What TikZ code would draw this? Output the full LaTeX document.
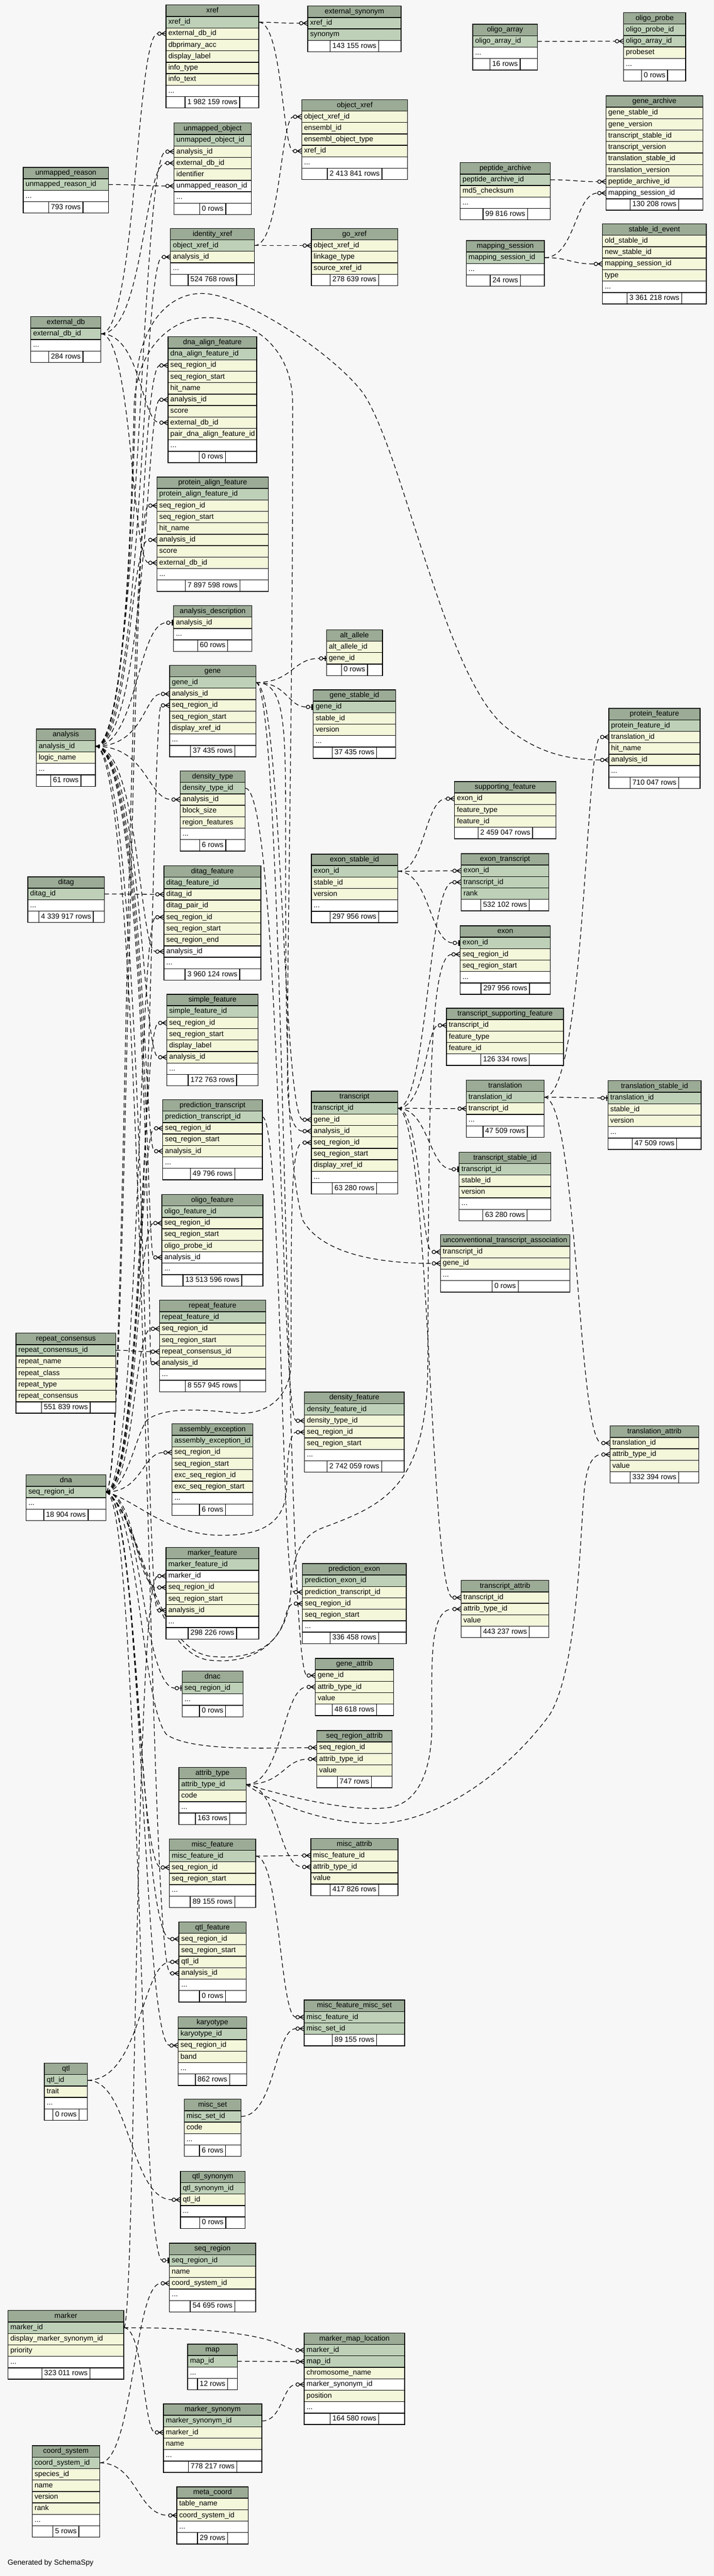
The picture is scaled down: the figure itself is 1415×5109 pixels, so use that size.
\documentclass[tikz,border=0pt]{standalone}
\usepackage{fontspec}
\setmainfont{Liberation Sans}
\usetikzlibrary{calc}
\definecolor{bgc}{HTML}{F7F7F7}
\definecolor{hdrc}{HTML}{9BAB96}
\definecolor{pkc}{HTML}{BED1B8}
\definecolor{colc}{HTML}{F4F7DA}
\pgfdeclarelayer{bglayer}
\pgfdeclarelayer{edgelayer}
\pgfsetlayers{bglayer,edgelayer,main}
\newcommand\tabfont{\fontsize{14.5}{17}\selectfont}
\newcommand\rowh{22.7}
\newcommand\tdots{...}
\def\fcp{pkc}\def\fcc{colc}\def\fcw{white}
\tikzset{
 cellbase/.style={draw=black, line width=1.4pt, rectangle, anchor=north west, minimum height=22.7pt, inner sep=0pt, outer sep=0pt},
 txt/.style={anchor=west, inner sep=0pt, text height=10.5pt, text depth=3pt, font=\tabfont},
 cnt/.style={draw=black, line width=1.4pt, fill=white, minimum height=22.7pt, inner xsep=4.5pt, inner ysep=0pt, text height=10.5pt, text depth=3pt, font=\tabfont},
 fkline/.style={draw=black, line width=1.3pt, dash pattern=on 9pt off 6pt},
 mk/.style={draw=black, line width=1.3pt, solid},
}
\newcommand\dbtable[6]{%
 \node[cellbase, fill=hdrc, minimum width=#4] (#1-0) at (#2,{-#3}) {};
 \node[txt, anchor=center] at (#1-0.center) {#1};
 \foreach \rk/\rt [count=\ri] in {#5} {%
   \edef\curfill{\csname fc\rk\endcsname}%
   \node[cellbase, fill=\curfill, minimum width=#4] (#1-\ri) at (#2,{-#3-\ri*\rowh}) {};
   \node[txt] at ($(#1-\ri.west)+(4.5,0)$) {\rt};
   \xdef\nrow{\ri}%
 }%
 \node[cellbase, fill=white, minimum width=#4] (#1-f) at (#2,{-#3-(\nrow+1)*\rowh}) {};
 \node[cnt] at (#1-f.center) {#6};
}
\newcommand\crowat[1]{%
 \draw[mk] ($(#1.west)+(-9,0)$) -- ($(#1.west)+(0,5)$)
   ($(#1.west)+(-9,0)$) -- (#1.west)
   ($(#1.west)+(-9,0)$) -- ($(#1.west)+(0,-5)$);
 \draw[mk, fill=white] ($(#1.west)+(-13,0)$) circle[radius=3.5];
}
\newcommand\oneat[1]{%
 \draw[mk] ($(#1.west)+(-7,0)$) -- (#1.west);
 \draw[mk, line width=2.6pt] ($(#1.west)+(-2.2,5.5)$) -- ($(#1.west)+(-2.2,-5.5)$);
 \draw[mk, fill=white] ($(#1.west)+(-10.5,0)$) circle[radius=3.5];
}
\newcommand\fk[3]{%
 \coordinate (cA) at (#3,0);
 \coordinate (cE) at ($(#2.west)+(-16.5,0)$);
 \draw[fkline] (#1.east) .. controls (#1.east -| cA) and (cE -| cA) .. (cE);
 \crowat{#2}}
\newcommand\fo[3]{%
 \coordinate (cA) at (#3,0);
 \coordinate (cE) at ($(#2.west)+(-14,0)$);
 \draw[fkline] (#1.east) .. controls (#1.east -| cA) and (cE -| cA) .. (cE);
 \oneat{#2}}
\begin{document}
\catcode`\_=12
\begin{tikzpicture}[x=1pt,y=1pt]
\useasboundingbox (0,0) rectangle (1415,-5109);
\begin{pgfonlayer}{bglayer}
\fill[bgc] (0,0) rectangle (1415,-5109);
\end{pgfonlayer}

\dbtable{xref}{329}{10}{184}{p/xref_id, c/external_db_id, c/dbprimary_acc, c/display_label, c/info_type, c/info_text, w/\tdots}{1 982 159 rows}
\dbtable{external_synonym}{610}{12}{185}{p/xref_id, p/synonym}{143 155 rows}
\dbtable{unmapped_object}{345}{244}{153}{p/unmapped_object_id, c/analysis_id, c/external_db_id, c/identifier, w/unmapped_reason_id, w/\tdots}{0 rows}
\dbtable{unmapped_reason}{46}{332}{169}{p/unmapped_reason_id, w/\tdots}{793 rows}
\dbtable{object_xref}{598}{197.5}{210}{c/object_xref_id, c/ensembl_id, c/ensembl_object_type, c/xref_id, w/\tdots}{2 413 841 rows}
\dbtable{identity_xref}{338}{453}{166}{p/object_xref_id, c/analysis_id, w/\tdots}{524 768 rows}
\dbtable{go_xref}{617}{453}{171}{c/object_xref_id, c/linkage_type, c/source_xref_id}{278 639 rows}
\dbtable{external_db}{61}{628}{139}{p/external_db_id, w/\tdots}{284 rows}
\dbtable{dna_align_feature}{333}{668}{176}{p/dna_align_feature_id, c/seq_region_id, c/seq_region_start, c/hit_name, c/analysis_id, c/score, c/external_db_id, c/pair_dna_align_feature_id, w/\tdots}{0 rows}
\dbtable{oligo_array}{937}{48}{128}{p/oligo_array_id, w/\tdots}{16 rows}
\dbtable{oligo_probe}{1236}{25}{123}{p/oligo_probe_id, p/oligo_array_id, c/probeset, w/\tdots}{0 rows}
\dbtable{gene_archive}{1201}{190}{192}{c/gene_stable_id, c/gene_version, c/transcript_stable_id, c/transcript_version, c/translation_stable_id, c/translation_version, c/peptide_archive_id, w/mapping_session_id}{130 208 rows}
\dbtable{peptide_archive}{912}{322.5}{179}{p/peptide_archive_id, c/md5_checksum, w/\tdots}{99 816 rows}
\dbtable{mapping_session}{924}{477}{155}{p/mapping_session_id, w/\tdots}{24 rows}
\dbtable{stable_id_event}{1194}{444}{206}{c/old_stable_id, c/new_stable_id, c/mapping_session_id, c/type, w/\tdots}{3 361 218 rows}
\dbtable{protein_align_feature}{311}{946}{221}{p/protein_align_feature_id, c/seq_region_id, c/seq_region_start, c/hit_name, c/analysis_id, c/score, c/external_db_id, w/\tdots}{7 897 598 rows}
\dbtable{analysis_description}{344}{1201}{155}{c/analysis_id, w/\tdots}{60 rows}
\dbtable{alt_allele}{647}{1249}{111}{c/alt_allele_id, c/gene_id}{0 rows}
\dbtable{gene}{336}{1319.5}{171}{p/gene_id, c/analysis_id, c/seq_region_id, c/seq_region_start, c/display_xref_id, w/\tdots}{37 435 rows}
\dbtable{gene_stable_id}{621}{1368}{163}{p/gene_id, c/stable_id, c/version, w/\tdots}{37 435 rows}
\dbtable{analysis}{72}{1446}{117}{p/analysis_id, c/logic_name, w/\tdots}{61 rows}
\dbtable{density_type}{357}{1529}{129}{p/density_type_id, c/analysis_id, c/block_size, c/region_features, w/\tdots}{6 rows}
\dbtable{ditag_feature}{325}{1717}{192}{p/ditag_feature_id, c/ditag_id, c/ditag_pair_id, c/seq_region_id, c/seq_region_start, c/seq_region_end, w/analysis_id, w/\tdots}{3 960 124 rows}
\dbtable{exon_stable_id}{617}{1694}{171}{p/exon_id, c/stable_id, c/version, w/\tdots}{297 956 rows}
\dbtable{ditag}{55}{1739}{152}{p/ditag_id, w/\tdots}{4 339 917 rows}
\dbtable{protein_feature}{1206.6}{1405}{181}{p/protein_feature_id, c/translation_id, c/hit_name, c/analysis_id, w/\tdots}{710 047 rows}
\dbtable{supporting_feature}{901}{1550}{201}{c/exon_id, c/feature_type, c/feature_id}{2 459 047 rows}
\dbtable{exon_transcript}{914}{1693}{174}{p/exon_id, p/transcript_id, p/rank}{532 102 rows}
\dbtable{simple_feature}{330.6}{1972}{181}{p/simple_feature_id, c/seq_region_id, c/seq_region_start, c/display_label, c/analysis_id, w/\tdots}{172 763 rows}
\dbtable{prediction_transcript}{322.5}{2181}{197.5}{p/prediction_transcript_id, c/seq_region_id, c/seq_region_start, c/analysis_id, w/\tdots}{49 796 rows}
\dbtable{oligo_feature}{321}{2369}{200}{p/oligo_feature_id, c/seq_region_id, c/seq_region_start, c/oligo_probe_id, w/analysis_id, w/\tdots}{13 513 596 rows}
\dbtable{repeat_feature}{316}{2578.6}{210.5}{p/repeat_feature_id, c/seq_region_id, c/seq_region_start, c/repeat_consensus_id, c/analysis_id, w/\tdots}{8 557 945 rows}
\dbtable{transcript}{617}{2164}{171}{p/transcript_id, c/gene_id, c/analysis_id, c/seq_region_id, c/seq_region_start, c/display_xref_id, w/\tdots}{63 280 rows}
\dbtable{exon}{912}{1836}{179}{p/exon_id, c/seq_region_id, c/seq_region_start, w/\tdots}{297 956 rows}
\dbtable{transcript_supporting_feature}{885}{1999.5}{232}{c/transcript_id, c/feature_type, c/feature_id}{126 334 rows}
\dbtable{translation}{924}{2142}{154.5}{p/translation_id, c/transcript_id, w/\tdots}{47 509 rows}
\dbtable{translation_stable_id}{1205}{2143.5}{184.5}{p/translation_id, c/stable_id, c/version, w/\tdots}{47 509 rows}
\dbtable{transcript_stable_id}{910}{2285}{182}{p/transcript_id, c/stable_id, c/version, w/\tdots}{63 280 rows}
\dbtable{unconventional_transcript_association}{873}{2449}{256.5}{c/transcript_id, c/gene_id, w/\tdots}{0 rows}
\dbtable{repeat_consensus}{31.6}{2644}{198}{p/repeat_consensus_id, c/repeat_name, c/repeat_class, c/repeat_type, c/repeat_consensus}{551 839 rows}
\dbtable{density_feature}{603.6}{2761}{197.4}{p/density_feature_id, c/density_type_id, c/seq_region_id, c/seq_region_start, w/\tdots}{2 742 059 rows}
\dbtable{assembly_exception}{341}{2824}{160.5}{p/assembly_exception_id, c/seq_region_id, c/seq_region_start, c/exc_seq_region_id, c/exc_seq_region_start, w/\tdots}{6 rows}
\dbtable{dna}{51.5}{2925}{158.5}{p/seq_region_id, w/\tdots}{18 904 rows}
\dbtable{marker_feature}{329}{3069}{184}{p/marker_feature_id, w/marker_id, c/seq_region_id, c/seq_region_start, c/analysis_id, w/\tdots}{298 226 rows}
\dbtable{prediction_exon}{599.5}{3101}{205.5}{p/prediction_exon_id, c/prediction_transcript_id, c/seq_region_id, c/seq_region_start, w/\tdots}{336 458 rows}
\dbtable{dnac}{361}{3314}{120.6}{p/seq_region_id, w/\tdots}{0 rows}
\dbtable{gene_attrib}{625}{3289}{155}{c/gene_id, c/attrib_type_id, c/value}{48 618 rows}
\dbtable{seq_region_attrib}{628}{3432}{149}{c/seq_region_id, c/attrib_type_id, c/value}{747 rows}
\dbtable{attrib_type}{354.6}{3505}{133.2}{p/attrib_type_id, c/code, w/\tdots}{163 rows}
\dbtable{translation_attrib}{1209}{2828}{176}{c/translation_id, c/attrib_type_id, c/value}{332 394 rows}
\dbtable{transcript_attrib}{914}{3134.5}{174}{c/transcript_id, c/attrib_type_id, c/value}{443 237 rows}
\dbtable{misc_feature}{335.7}{3647}{171}{p/misc_feature_id, c/seq_region_id, c/seq_region_start, w/\tdots}{89 155 rows}
\dbtable{misc_attrib}{616}{3646}{173}{c/misc_feature_id, c/attrib_type_id, c/value}{417 826 rows}
\dbtable{qtl_feature}{354.6}{3811.6}{133.2}{c/seq_region_id, c/seq_region_start, c/qtl_id, c/analysis_id, w/\tdots}{0 rows}
\dbtable{misc_feature_misc_set}{603}{3966.6}{199}{p/misc_feature_id, p/misc_set_id}{89 155 rows}
\dbtable{karyotype}{353}{4000}{136}{p/karyotype_id, c/seq_region_id, c/band, w/\tdots}{862 rows}
\dbtable{qtl}{88}{4091.7}{85.5}{p/qtl_id, c/trait, w/\tdots}{0 rows}
\dbtable{misc_set}{365}{4163.5}{112.6}{p/misc_set_id, c/code, w/\tdots}{6 rows}
\dbtable{qtl_synonym}{357.6}{4306}{128}{p/qtl_synonym_id, c/qtl_id, w/\tdots}{0 rows}
\dbtable{seq_region}{335.7}{4449}{171}{p/seq_region_id, c/name, c/coord_system_id, w/\tdots}{54 695 rows}
\dbtable{marker}{15.8}{4582.5}{229.6}{p/marker_id, c/display_marker_synonym_id, c/priority, w/\tdots}{323 011 rows}
\dbtable{map}{372}{4649}{98.4}{p/map_id, w/\tdots}{12 rows}
\dbtable{marker_map_location}{603}{4627}{199}{p/marker_id, p/map_id, c/chromosome_name, w/marker_synonym_id, c/position, w/\tdots}{164 580 rows}
\dbtable{marker_synonym}{324}{4767.5}{195}{p/marker_synonym_id, c/marker_id, c/name, w/\tdots}{778 217 rows}
\dbtable{coord_system}{63.8}{4850.5}{133.6}{p/coord_system_id, c/species_id, c/name, c/version, c/rank, w/\tdots}{5 rows}
\dbtable{meta_coord}{350.5}{4932}{141.5}{c/table_name, c/coord_system_id, w/\tdots}{29 rows}

\node[txt] (gen) at (15,-5083) {Generated by SchemaSpy};

\begin{pgfonlayer}{edgelayer}
% external_db
\fk{external_db-1}{xref-2}{270}
\fk{external_db-1}{unmapped_object-3}{285}
\fk{external_db-1}{dna_align_feature-7}{280}
\fk{external_db-1}{protein_align_feature-7}{262}
% xref and friends
\fk{xref-1}{external_synonym-1}{550}
\fk{xref-1}{object_xref-4}{560}
\fk{unmapped_reason-1}{unmapped_object-5}{280}
\fk{identity_xref-1}{object_xref-1}{556}
\fk{identity_xref-1}{go_xref-1}{550}
\fk{oligo_array-1}{oligo_probe-2}{1150}
\fk{peptide_archive-1}{gene_archive-7}{1140}
\fk{mapping_session-1}{gene_archive-8}{1140}
\fk{mapping_session-1}{stable_id_event-3}{1130}
% analysis
\fk{analysis-1}{unmapped_object-2}{278}
\fk{analysis-1}{identity_xref-2}{282}
\fk{analysis-1}{dna_align_feature-5}{290}
\fk{analysis-1}{protein_align_feature-5}{258}
\fo{analysis-1}{analysis_description-1}{272}
\fk{analysis-1}{gene-2}{286}
\fk{analysis-1}{density_type-2}{292}
\fk{analysis-1}{ditag_feature-7}{276}
\fk{analysis-1}{simple_feature-5}{281}
\fk{analysis-1}{prediction_transcript-4}{285}
\fk{analysis-1}{oligo_feature-5}{290}
\fk{analysis-1}{repeat_feature-5}{294}
\fk{analysis-1}{marker_feature-5}{287}
\fk{analysis-1}{qtl_feature-4}{291}
\draw[fkline] (analysis-1.east) .. controls (250,-1480) and (262,-1000) .. (270,-760)
 .. controls (275,-650) and (330,-582) .. (400,-582)
 .. controls (480,-582) and (660,-700) .. (720,-780)
 .. controls (800,-900) and (880,-1340) .. (1000,-1440)
 .. controls (1060,-1490) and (1120,-1507.15) .. ($(protein_feature-4.west)+(-16.5,0)$);
\crowat{protein_feature-4}
\draw[fkline] (analysis-1.east) .. controls (245,-1480) and (260,-1050) .. (266,-800)
 .. controls (272,-690) and (340,-630) .. (410,-630)
 .. controls (500,-630) and (580,-690) .. (580,-800)
 .. controls (581,-1400) and (568,-1900) .. (570,-2150)
 .. controls (571,-2210) and (582,-2243.45) .. ($(transcript-3.west)+(-16.5,0)$);
\crowat{transcript-3}
% dna
\fk{dna-1}{dna_align_feature-2}{255}
\fk{dna-1}{protein_align_feature-2}{250}
\fk{dna-1}{gene-3}{300}
\fk{dna-1}{ditag_feature-4}{275}
\fk{dna-1}{simple_feature-2}{280}
\fk{dna-1}{prediction_transcript-2}{276}
\fk{dna-1}{oligo_feature-2}{271}
\fk{dna-1}{repeat_feature-2}{266}
\fk{dna-1}{assembly_exception-2}{282}
\fk{dna-1}{marker_feature-3}{268}
\fo{dna-1}{dnac-1}{282}
\fk{dna-1}{misc_feature-2}{272}
\fk{dna-1}{qtl_feature-1}{277}
\fk{dna-1}{karyotype-2}{282}
\fo{dna-1}{seq_region-1}{276}
\draw[fkline] (dna-1.east) .. controls (275,-2980) and (280,-3380) .. (330,-3440)
 .. controls (380,-3475) and (540,-3466) .. ($(seq_region_attrib-1.west)+(-16.5,0)$);
\crowat{seq_region_attrib-1}
\draw[fkline] (dna-1.east) .. controls (250,-2959) and (268,-2850) .. (290,-2818)
 .. controls (320,-2790) and (400,-2795) .. (460,-2802)
 .. controls (530,-2810) and (577,-2770) .. (577,-2700)
 .. controls (577,-2400) and (576,-2266.15) .. ($(transcript-4.west)+(-16.5,0)$);
\crowat{transcript-4}
\draw[fkline] (dna-1.east) .. controls (270,-2975) and (330,-3045) .. (440,-3045)
 .. controls (520,-3045) and (566,-3020) .. (568,-2950)
 .. controls (570,-2880) and (575,-2840.45) .. ($(density_feature-3.west)+(-16.5,0)$);
\crowat{density_feature-3}
\draw[fkline] (dna-1.east) .. controls (280,-3000) and (300,-3270) .. (418,-3285)
 .. controls (520,-3295) and (572,-3250) .. (577,-3150)
 .. controls (580,-3080) and (600,-3045) .. (640,-3030)
 .. controls (760,-2985) and (848,-2950) .. (848,-2700)
 .. controls (850,-2200) and (850,-1892.75) .. ($(exon-2.west)+(-16.5,0)$);
\crowat{exon-2}
\draw[fkline] (dna-1.east) .. controls (280,-3005) and (300,-3282) .. (418,-3293)
 .. controls (520,-3302) and (558,-3240) .. (566,-3205)
 .. controls (570,-3188) and (576,-3180.45) .. ($(prediction_exon-3.west)+(-16.5,0)$);
\crowat{prediction_exon-3}
% gene
\fo{gene-1}{alt_allele-2}{580}
\fo{gene-1}{gene_stable_id-1}{570}
\fk{gene-1}{transcript-2}{560}
\fk{gene-1}{gene_attrib-1}{566}
\draw[fkline] (gene-1.east) .. controls (560,-1353.5) and (566,-1420) .. (566,-1600)
 .. controls (566,-2000) and (566,-2300) .. (600,-2420)
 .. controls (640,-2490) and (760,-2505.75) .. ($(unconventional_transcript_association-2.west)+(-16.5,0)$);
\crowat{unconventional_transcript_association-2}
% misc links
\fk{density_type-1}{density_feature-2}{556}
\fk{ditag-1}{ditag_feature-2}{260}
\fk{exon_stable_id-1}{supporting_feature-1}{842}
\fk{exon_stable_id-1}{exon_transcript-1}{850}
\fo{exon_stable_id-1}{exon-1}{852}
\fk{transcript-1}{exon_transcript-2}{848}
\fk{transcript-1}{transcript_supporting_feature-1}{845}
\fk{transcript-1}{translation-2}{850}
\fo{transcript-1}{transcript_stable_id-1}{850}
\fk{transcript-1}{unconventional_transcript_association-1}{835}
\fk{transcript-1}{transcript_attrib-1}{852}
\fo{translation-1}{translation_stable_id-1}{1140}
\fk{translation-1}{protein_feature-2}{1160}
\fk{translation-1}{translation_attrib-1}{1145}
\fk{prediction_transcript-1}{prediction_exon-2}{558}
\fk{repeat_consensus-1}{repeat_feature-4}{265}
% attrib_type
\fk{attrib_type-1}{gene_attrib-2}{560}
\fk{attrib_type-1}{seq_region_attrib-2}{562}
\fk{attrib_type-1}{misc_attrib-2}{552}
\draw[fkline] (attrib_type-1.east) .. controls (560,-3560) and (690,-3595) .. (770,-3585)
 .. controls (830,-3577) and (856,-3510) .. (856,-3420)
 .. controls (856,-3300) and (850,-3191.25) .. ($(transcript_attrib-2.west)+(-16.5,0)$);
\crowat{transcript_attrib-2}
\draw[fkline] (attrib_type-1.east) .. controls (560,-3590) and (680,-3622) .. (760,-3616)
 .. controls (880,-3606) and (1010,-3510) .. (1090,-3400)
 .. controls (1150,-3300) and (1150,-3000) .. (1160,-2940)
 .. controls (1165,-2905) and (1175,-2884.75) .. ($(translation_attrib-2.west)+(-16.5,0)$);
\crowat{translation_attrib-2}
% misc / qtl / marker / coord
\fk{misc_feature-1}{misc_attrib-1}{550}
\fk{misc_feature-1}{misc_feature_misc_set-1}{555}
\fk{misc_set-1}{misc_feature_misc_set-2}{545}
\fk{qtl-1}{qtl_feature-3}{280}
\fk{qtl-1}{qtl_synonym-2}{258}
\fk{marker-1}{marker_feature-2}{268}
\fk{marker-1}{marker_map_location-1}{560}
\fk{marker-1}{marker_synonym-2}{285}
\fk{map-1}{marker_map_location-2}{530}
\fk{marker_synonym-1}{marker_map_location-4}{560}
\fk{coord_system-1}{seq_region-3}{265}
\fk{coord_system-1}{meta_coord-2}{272}
\end{pgfonlayer}
\end{tikzpicture}
\end{document}
